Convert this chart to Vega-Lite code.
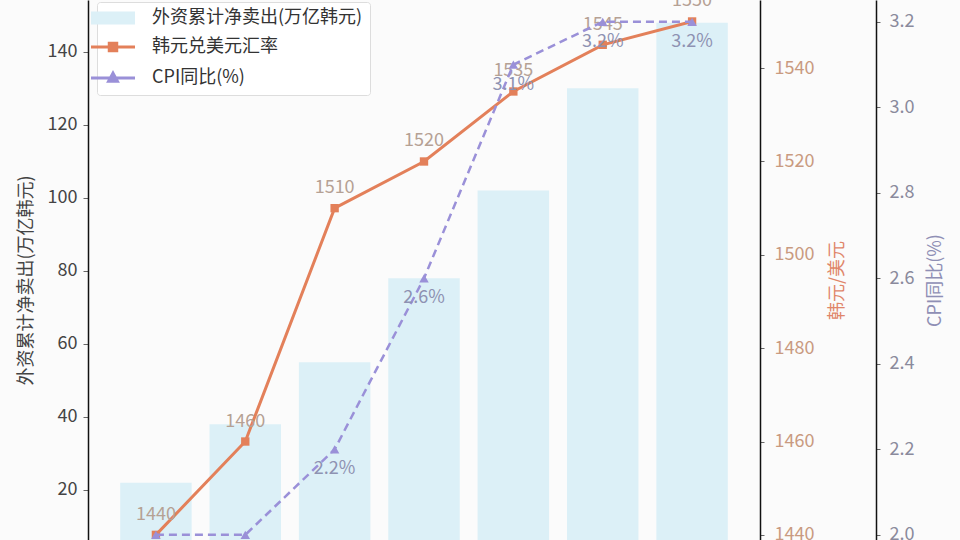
{
  "$schema": "https://vega.github.io/schema/vega-lite/v6.json",
  "width": 672,
  "height": 540,
  "autosize": "none",
  "padding": {"left": 88, "top": 0, "right": 200, "bottom": 0},
  "background": "#fbfbfb",
  "config": {
    "view": {"stroke": null},
    "font": "Noto Sans CJK SC",
    "axis": {
      "grid": false,
      "domainColor": "#111111",
      "domainWidth": 1.5,
      "tickColor": "#666666",
      "tickSize": 4,
      "labelFontSize": 18,
      "titleFontSize": 18,
      "titleFontWeight": "normal",
      "titleAngle": 270,
      "titleAlign": "center",
      "titleBaseline": "middle",
      "titleY": 280
    }
  },
  "data": {
    "values": [
      {"period": "P1", "sell": 22, "krw": 1440, "cpi": 2.0},
      {"period": "P2", "sell": 38, "krw": 1460, "cpi": 2.0},
      {"period": "P3", "sell": 55, "krw": 1510, "cpi": 2.2},
      {"period": "P4", "sell": 78, "krw": 1520, "cpi": 2.6},
      {"period": "P5", "sell": 102, "krw": 1535, "cpi": 3.1},
      {"period": "P6", "sell": 130, "krw": 1545, "cpi": 3.2},
      {"period": "P7", "sell": 148, "krw": 1550, "cpi": 3.2}
    ]
  },
  "encoding": {
    "x": {
      "field": "period",
      "type": "nominal",
      "sort": null,
      "axis": null,
      "scale": {"paddingInner": 0.2, "paddingOuter": 0.36}
    }
  },
  "layer": [
    {
      "mark": {"type": "bar", "clip": true},
      "encoding": {
        "y": {
          "field": "sell",
          "type": "quantitative",
          "scale": {"domain": [6.3, 154.2], "nice": false, "zero": false},
          "axis": {
            "orient": "left",
            "values": [20, 40, 60, 80, 100, 120, 140],
            "title": "外资累计净卖出(万亿韩元)",
            "titleColor": "#444444",
            "titleX": -62,
            "labelColor": "#444444",
            "tickSize": 5,
            "labelPadding": 6
          }
        },
        "color": {
          "datum": "外资累计净卖出(万亿韩元)",
          "scale": {
            "domain": ["外资累计净卖出(万亿韩元)", "韩元兑美元汇率", "CPI同比(%)"],
            "range": ["#dcf0f7", "#e3805a", "#9a90d8"]
          },
          "legend": {
            "orient": "none",
            "legendX": 9,
            "legendY": 2,
            "title": null,
            "fillColor": "#ffffff",
            "strokeColor": "#dddddd",
            "cornerRadius": 3,
            "padding": 7,
            "labelFontSize": 18,
            "labelColor": "#333333",
            "labelLimit": 0,
            "labelOffset": 30,
            "symbolSize": 1936,
            "rowPadding": 10,
            "encode": {
              "symbols": {
                "update": {
                  "shape": {"signal": "datum.value === '外资累计净卖出(万亿韩元)' ? 'M-1,-0.3H1V0.3H-1Z' : datum.value === '韩元兑美元汇率' ? 'M-1,0H1M-0.17,-0.17H0.17V0.17H-0.17Z' : 'M-1,0H1M0,-0.22L0.2,0.15H-0.2Z'"},
                  "fill": {"signal": "scale('color', datum.value)"},
                  "stroke": {"signal": "scale('color', datum.value)"},
                  "strokeWidth": {"signal": "datum.value === '外资累计净卖出(万亿韩元)' ? 0 : 3"},
                  "opacity": {"value": 1}
                }
              }
            }
          }
        }
      }
    },
    {
      "encoding": {
        "y": {
          "field": "krw",
          "type": "quantitative",
          "scale": {"domain": [1438.9, 1554.6], "nice": false, "zero": false},
          "axis": {
            "orient": "right",
            "values": [1440, 1460, 1480, 1500, 1520, 1540],
            "format": "d",
            "title": "韩元/美元",
            "titleColor": "#e0866a",
            "titleX": 77,
            "labelColor": "#c99a80",
            "labelPadding": 10
          }
        }
      },
      "layer": [
        {
          "mark": {
            "type": "line",
            "clip": true,
            "strokeWidth": 3,
            "point": {"shape": "square", "filled": true, "size": 70}
          },
          "encoding": {"color": {"datum": "韩元兑美元汇率"}}
        },
        {
          "mark": {
            "type": "text",
            "clip": true,
            "dy": -15,
            "baseline": "alphabetic",
            "fontSize": 18,
            "color": "#b5a194"
          },
          "encoding": {"text": {"field": "krw", "type": "quantitative", "format": "d"}}
        }
      ]
    },
    {
      "encoding": {
        "y": {
          "field": "cpi",
          "type": "quantitative",
          "scale": {"domain": [1.988, 3.251], "nice": false, "zero": false},
          "axis": {
            "orient": "right",
            "offset": 116,
            "values": [2.0, 2.2, 2.4, 2.6, 2.8, 3.0, 3.2],
            "format": ".1f",
            "title": "CPI同比(%)",
            "titleColor": "#8f8fb5",
            "titleX": 59,
            "labelColor": "#8a8a9c",
            "labelPadding": 9
          }
        }
      },
      "layer": [
        {
          "mark": {
            "type": "line",
            "clip": true,
            "strokeWidth": 2.5,
            "strokeDash": [8, 5],
            "point": {"shape": "triangle-up", "filled": true, "size": 90}
          },
          "encoding": {"color": {"datum": "CPI同比(%)"}}
        },
        {
          "transform": [{"calculate": "format(datum.cpi, '.1f') + '%'", "as": "cpi_label"}],
          "mark": {
            "type": "text",
            "clip": true,
            "dy": 25,
            "baseline": "alphabetic",
            "fontSize": 18,
            "color": "#8e92b2"
          },
          "encoding": {"text": {"field": "cpi_label", "type": "nominal"}}
        }
      ]
    }
  ],
  "resolve": {"scale": {"y": "independent"}}
}
